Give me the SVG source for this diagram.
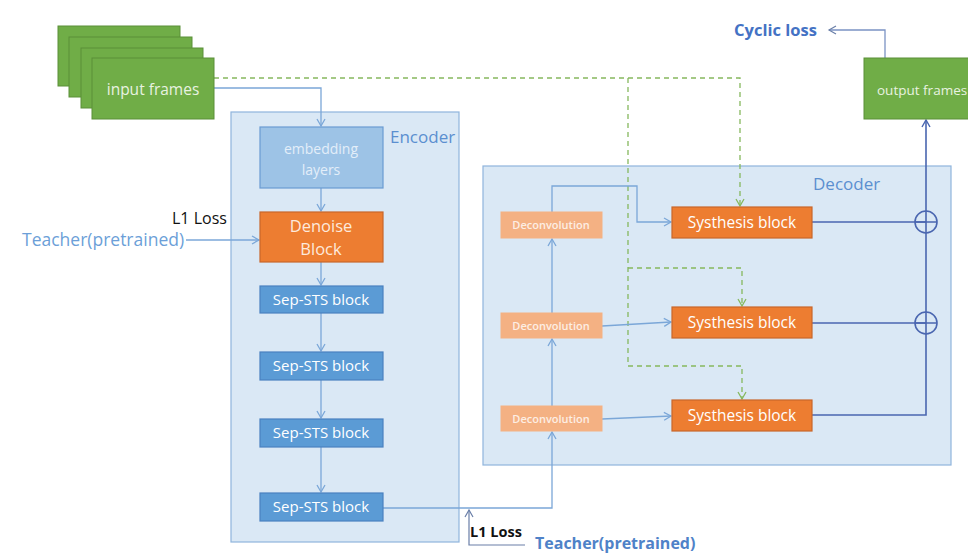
<svg xmlns="http://www.w3.org/2000/svg" width="968" height="553" viewBox="0 0 968 553">
<style>
text{font-family:"Open Sans","Noto Sans","Liberation Sans",sans-serif}
.frame{fill:#70ad47;stroke:#5a8f38;stroke-width:1}
.ftxt{fill:#e8f2e0;font-size:15.5px}
.region{fill:#dae8f5;stroke:#8fb4dc;stroke-width:1.2}
.rlabel{fill:#5b8fd0;font-size:17px}
.emb{fill:#9dc3e6;stroke:#6a9bd3;stroke-width:1.2}
.sep{fill:#5b9bd5;stroke:#4a80c0;stroke-width:1.2}
.org{fill:#ed7d31;stroke:#c9662a;stroke-width:1.2}
.dec{fill:#f4b183;stroke:#f4b183}
.wtxt{fill:#ffffff;font-size:15px}
.stxt{fill:#ffffff;font-size:15.5px}
.dtxt{fill:#fdeee3;font-size:11px;font-weight:600}
.ln{fill:none;stroke:#7ba7d8;stroke-width:1.3}
.dk{fill:none;stroke:#4a66b0;stroke-width:1.6}
.gd{fill:none;stroke:#86b85e;stroke-width:1.3;stroke-dasharray:5,4}
</style>
<defs>
<marker id="ab" markerWidth="10" markerHeight="10" refX="8" refY="5" orient="auto" markerUnits="userSpaceOnUse">
<path d="M1,1 L8,5 L1,9" fill="none" stroke="#7ba7d8" stroke-width="1.3"/>
</marker>
<marker id="ad" markerWidth="10" markerHeight="10" refX="8" refY="5" orient="auto" markerUnits="userSpaceOnUse">
<path d="M1,1 L8,5 L1,9" fill="none" stroke="#4a66b0" stroke-width="1.4"/>
</marker>
<marker id="ag" markerWidth="10" markerHeight="10" refX="8" refY="5" orient="auto" markerUnits="userSpaceOnUse">
<path d="M1,1 L8,5 L1,9" fill="none" stroke="#86b85e" stroke-width="1.3"/>
</marker>
<marker id="ak" markerWidth="10" markerHeight="10" refX="8" refY="5" orient="auto" markerUnits="userSpaceOnUse">
<path d="M1,1 L8,5 L1,9" fill="none" stroke="#6a7fa8" stroke-width="1.2"/>
</marker>
</defs>

<g id="encoder">
<rect class="region" x="231" y="112" width="228" height="430"/>
<text class="rlabel" x="390" y="143">Encoder</text>
</g>
<g id="decoder">
<rect class="region" x="483" y="166" width="468" height="299"/>
<text class="rlabel" x="813" y="190">Decoder</text>
</g>

<g id="connectors">
<path class="gd" d="M214,78 H740 V206" marker-end="url(#ag)"/>
<path class="gd" d="M628,78 V366 H742 V399" marker-end="url(#ag)"/>
<path class="gd" d="M628,268 H742 V306" marker-end="url(#ag)"/>
<path class="ln" d="M214,88 H321 V126" marker-end="url(#ab)"/>
<path class="ln" d="M321,188 V211" marker-end="url(#ab)"/>
<path class="ln" d="M321,262 V285" marker-end="url(#ab)"/>
<path class="ln" d="M321,313 V351" marker-end="url(#ab)"/>
<path class="ln" d="M321,380 V418" marker-end="url(#ab)"/>
<path class="ln" d="M321,447 V492" marker-end="url(#ab)"/>
<path class="ln" d="M186,240 H259" marker-end="url(#ab)"/>
<path class="ln" d="M383,508 H552 V432" marker-end="url(#ab)"/>
<path class="ln" d="M552,406 V339" marker-end="url(#ab)"/>
<path class="ln" d="M552,313 V239" marker-end="url(#ab)"/>
<path class="ln" d="M552,212 V186 H637 V222 H671" marker-end="url(#ab)"/>
<path class="ln" d="M602,326 L671,322" marker-end="url(#ab)"/>
<path class="ln" d="M602,419 L671,416" marker-end="url(#ab)"/>
<path d="M525,545 H469 V510" fill="none" stroke="#6a7fa8" stroke-width="1.2" marker-end="url(#ak)"/>
<path class="dk" d="M812,222 H926"/>
<path class="dk" d="M812,323 H926"/>
<path class="dk" d="M812,415 H926 V120" marker-end="url(#ad)"/>
<circle cx="926" cy="222" r="11" fill="none" stroke="#4a66b0" stroke-width="1.6"/>
<circle cx="926" cy="323" r="11" fill="none" stroke="#4a66b0" stroke-width="1.6"/>
<path class="dk" d="M915,222 H937 M915,323 H937"/>
<path d="M885,58 V30 H829" fill="none" stroke="#7b93c4" stroke-width="1.3" marker-end="url(#ak)"/>
</g>

<g id="input-frames">
<rect class="frame" x="58" y="26" width="122" height="60"/>
<rect class="frame" x="69" y="37" width="123" height="60"/>
<rect class="frame" x="81" y="48" width="122" height="60"/>
<rect class="frame" x="92" y="58" width="122" height="61"/>
<text class="ftxt" x="153" y="95" text-anchor="middle">input frames</text>
</g>
<g id="output-frames">
<rect class="frame" x="864" y="58" width="130" height="61"/>
<text x="877" y="95" fill="#e8f2e0" font-size="13.5">output frames</text>
</g>
<g id="cyclic-loss"><text x="734" y="36" fill="#4472c4" font-size="16.5" font-weight="bold">Cyclic loss</text></g>

<g id="embedding"><rect class="emb" x="260" y="127" width="123" height="61"/>
<text x="321" y="154" fill="#e3eef9" font-size="14" text-anchor="middle">embedding</text>
<text x="321" y="175" fill="#e3eef9" font-size="14" text-anchor="middle">layers</text></g>
<g id="denoise"><rect class="org" x="260" y="212" width="123" height="50"/>
<text x="321" y="232" fill="#fde9dc" font-size="16.5" text-anchor="middle">Denoise</text>
<text x="321" y="255" fill="#fde9dc" font-size="16.5" text-anchor="middle">Block</text></g>
<g id="sep1"><rect class="sep" x="260" y="286" width="123" height="27"/><text class="wtxt" x="321" y="305" text-anchor="middle">Sep-STS block</text></g>
<g id="sep2"><rect class="sep" x="260" y="352" width="123" height="28"/><text class="wtxt" x="321" y="371" text-anchor="middle">Sep-STS block</text></g>
<g id="sep3"><rect class="sep" x="260" y="419" width="123" height="28"/><text class="wtxt" x="321" y="438" text-anchor="middle">Sep-STS block</text></g>
<g id="sep4"><rect class="sep" x="260" y="493" width="123" height="28"/><text class="wtxt" x="321" y="512" text-anchor="middle">Sep-STS block</text></g>

<g id="deconv1"><rect class="dec" x="501" y="212" width="101" height="26"/><text class="dtxt" x="551" y="229" text-anchor="middle">Deconvolution</text></g>
<g id="deconv2"><rect class="dec" x="501" y="313" width="101" height="25"/><text class="dtxt" x="551" y="330" text-anchor="middle">Deconvolution</text></g>
<g id="deconv3"><rect class="dec" x="501" y="406" width="101" height="25"/><text class="dtxt" x="551" y="423" text-anchor="middle">Deconvolution</text></g>

<g id="synth1"><rect class="org" x="672" y="207" width="140" height="31"/><text class="stxt" x="742" y="228" text-anchor="middle">Systhesis block</text></g>
<g id="synth2"><rect class="org" x="672" y="307" width="140" height="31"/><text class="stxt" x="742" y="328" text-anchor="middle">Systhesis block</text></g>
<g id="synth3"><rect class="org" x="672" y="400" width="140" height="31"/><text class="stxt" x="742" y="421" text-anchor="middle">Systhesis block</text></g>

<g id="teacher-top">
<text x="22" y="246" fill="#6c9fd8" font-size="17.5">Teacher(pretrained)</text>
<text x="172" y="224" fill="#111" font-size="16">L1 Loss</text>
</g>
<g id="teacher-bottom">
<text x="470" y="537" fill="#111" font-size="14.5" font-weight="bold">L1 Loss</text>
<text x="535" y="549" fill="#4f82c8" font-size="16" font-weight="bold">Teacher(pretrained)</text>
</g>
</svg>
